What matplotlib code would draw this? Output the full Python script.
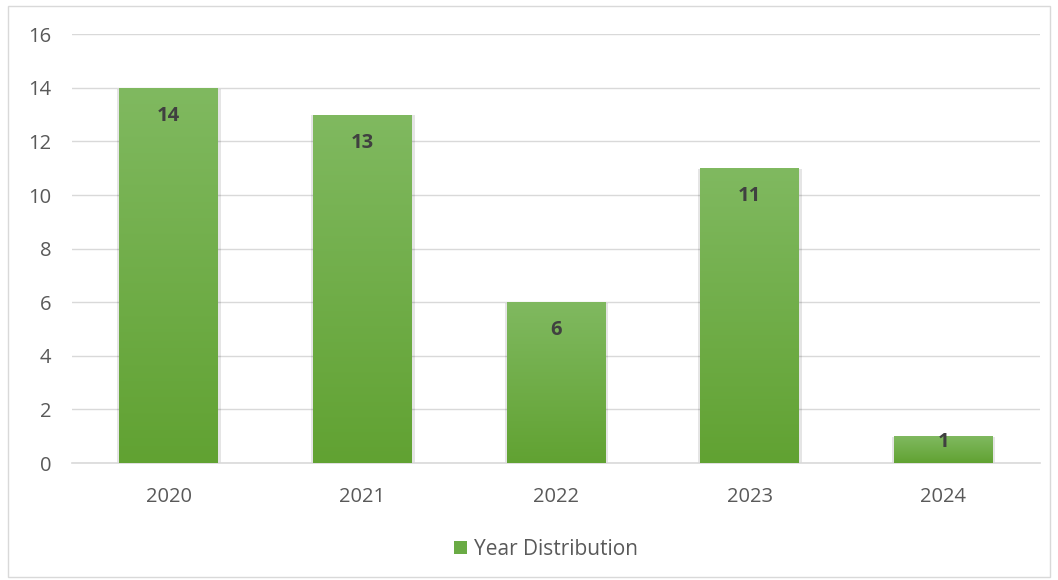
import numpy as np
import matplotlib
matplotlib.use("Agg")
import matplotlib.pyplot as plt
from matplotlib.patches import Rectangle, Patch
from matplotlib.colors import LinearSegmentedColormap

years = ["2020", "2021", "2022", "2023", "2024"]
counts = [14, 13, 6, 11, 1]
series_name = "Year Distribution"

plt.rcParams['font.family'] = ['Open Sans', 'DejaVu Sans']

fig = plt.figure(figsize=(10.58, 5.8), dpi=100)
ax = fig.add_axes([0.068, 0.2017, 0.915, 0.7393])

x = np.arange(len(years))
width = 0.51
bars = ax.bar(x, counts, width=width, color="none", zorder=3)

# vertical gradient fill for each bar (light top -> darker bottom)
cmap = LinearSegmentedColormap.from_list("g", ["#61A232", "#80B960"])
grad = np.linspace(0, 1, 256).reshape(-1, 1)
for b in bars:
    x0, y0, w, h = b.get_x(), b.get_y(), b.get_width(), b.get_height()
    # faint shadow around the bar
    ax.add_patch(Rectangle((x0 - 0.01, y0), w + 0.025, h - 0.03, color="#000000",
                           alpha=0.10, zorder=2, lw=0))
    im = ax.imshow(grad, cmap=cmap, origin="lower", aspect="auto",
                   extent=[x0, x0 + w, y0, y0 + h], zorder=3)
    im.set_clip_path(b)

for xi, v in zip(x, counts):
    ty = v - 1.05 if v > 2 else v - 0.2
    ax.text(xi, ty, str(v), ha="center", va="center", fontsize=14.5,
            fontweight="bold", color="#404040", zorder=4)

ax.set_xlim(-0.5, len(years) - 0.5)
ax.set_ylim(0, 16)
ax.set_yticks(range(0, 17, 2))
ax.set_xticks(x)
ax.set_xticklabels(years)
ax.tick_params(axis="both", length=0, labelsize=14.5, colors="#595959")
ax.tick_params(axis="x", pad=17.5)
ax.tick_params(axis="y", pad=15)
ax.grid(axis="y", color="#D9D9D9", linewidth=1, zorder=0)
ax.set_axisbelow(True)
for s in ["top", "right", "left"]:
    ax.spines[s].set_visible(False)
ax.spines["bottom"].set_color("#D9D9D9")
ax.spines["bottom"].set_linewidth(1.2)

handle = Patch(facecolor="#6AAB45", edgecolor="none")
fig.legend([handle], [series_name], loc="center", bbox_to_anchor=(0.516, 0.053),
           frameon=False, fontsize=15, handlelength=0.63, handleheight=0.63,
           handletextpad=0.35, labelcolor="#595959")

fig.add_artist(Rectangle((0.008, 0.005), 0.984, 0.985, transform=fig.transFigure,
                         fill=False, edgecolor="#D9D9D9", linewidth=1))

fig.savefig("out.png", dpi=100)
